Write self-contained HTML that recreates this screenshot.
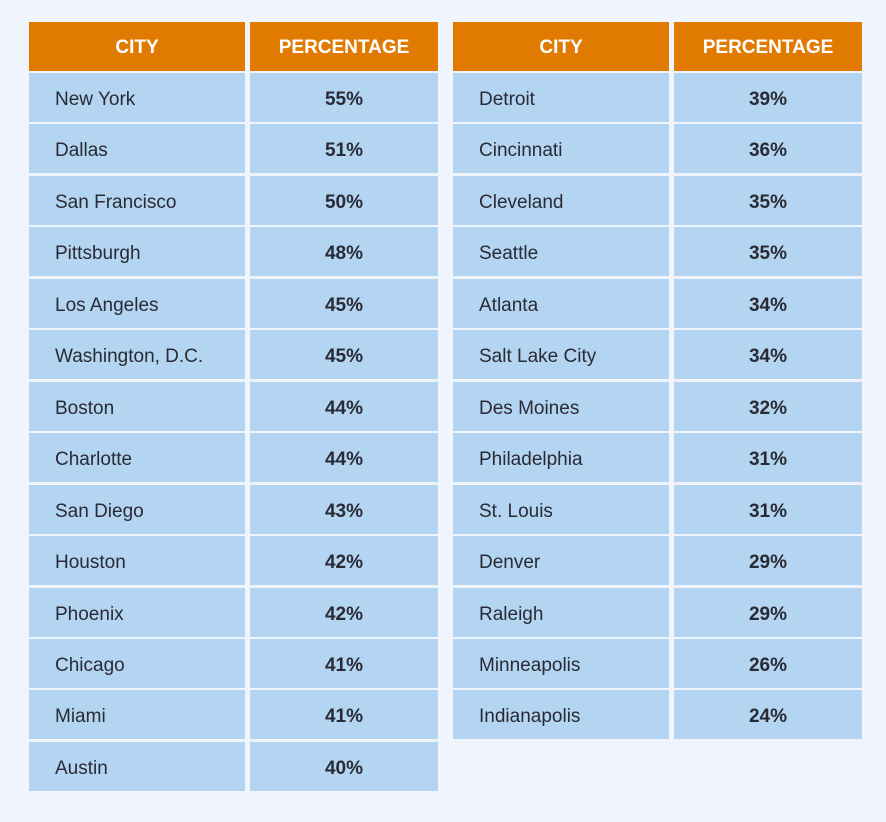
<!DOCTYPE html>
<html><head><style>
body{margin:0;width:886px;height:822px;background:#f0f5fd;position:relative;overflow:hidden;font-family:"Liberation Sans",sans-serif}
.c{position:absolute;box-sizing:border-box;display:flex;align-items:center;padding-top:5px}
.h{background:#e17a00;color:#fff;font-weight:bold;font-size:19px;justify-content:center;height:49px;top:22px;padding-top:3px}
.b{background:#b3d5f1;color:#2a2a35;font-size:19px;height:49px}
.n{padding-left:26px}
.p{justify-content:center;font-weight:bold}
</style></head><body>
<div id="t"></div>
<script>
const L=[["New York","55%"],["Dallas","51%"],["San Francisco","50%"],["Pittsburgh","48%"],["Los Angeles","45%"],["Washington, D.C.","45%"],["Boston","44%"],["Charlotte","44%"],["San Diego","43%"],["Houston","42%"],["Phoenix","42%"],["Chicago","41%"],["Miami","41%"],["Austin","40%"]];
const R=[["Detroit","39%"],["Cincinnati","36%"],["Cleveland","35%"],["Seattle","35%"],["Atlanta","34%"],["Salt Lake City","34%"],["Des Moines","32%"],["Philadelphia","31%"],["St. Louis","31%"],["Denver","29%"],["Raleigh","29%"],["Minneapolis","26%"],["Indianapolis","24%"]];
let h="";
function tb(x,d){
h+=`<div class="c h" style="left:${x}px;width:216px">CITY</div><div class="c h" style="left:${x+221}px;width:188px">PERCENTAGE</div>`;
d.forEach((r,i)=>{const y=73+i*51.45;
h+=`<div class="c b n" style="left:${x}px;width:216px;top:${y}px">${r[0]}</div><div class="c b p" style="left:${x+221}px;width:188px;top:${y}px">${r[1]}</div>`;});
}
tb(29,L);tb(453,R);
document.getElementById("t").innerHTML=h;
</script>
</body></html>
